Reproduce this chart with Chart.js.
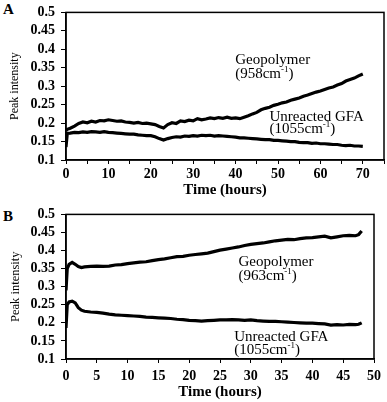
<!DOCTYPE html>
<html>
<head>
<meta charset="utf-8">
<script src="https://cdn.jsdelivr.net/npm/chart.js@4.4.1/dist/chart.umd.min.js"></script>
<style>
  html, body { margin: 0; padding: 0; background: #fff; width: 387px; height: 402px; overflow: hidden; }
  .wrap { position: absolute; left: 0; }
  .letter { position: absolute; font-family: 'Liberation Serif', serif; font-weight: bold; font-size: 15px; color: #000; line-height: 1; }
</style>
</head>
<body>
<div class="letter" style="left:3px; top:2px;">A</div>
<div class="letter" style="left:3px; top:209px;">B</div>
<div class="wrap" style="top:-2px; width:387px; height:202px;"><canvas id="chartA" width="387" height="202"></canvas></div>
<div class="wrap" style="top:200px; width:387px; height:202px;"><canvas id="chartB" width="387" height="202"></canvas></div>
<script>
// ---------- Panel A data ----------
const timeA = [0, 0.3, 1, 2, 3, 4, 5, 6, 7, 8, 9, 10, 11, 12, 13, 14, 15, 16, 17, 18, 19, 20,
  21, 22, 23, 24, 25, 26, 27, 28, 29, 30, 31, 32, 33, 34, 35, 36, 37, 38, 39, 40,
  41, 42, 43, 44, 45, 46, 47, 48, 49, 50, 51, 52, 53, 54, 55, 56, 57, 58, 59, 60,
  61, 62, 63, 64, 65, 66, 67, 68, 69, 70];
const geopolymerA = [0.180, 0.183, 0.186, 0.192, 0.199, 0.203, 0.201, 0.205, 0.203, 0.207, 0.206, 0.209,
  0.207, 0.205, 0.206, 0.203, 0.202, 0.200, 0.202, 0.199, 0.200, 0.198,
  0.196, 0.191, 0.187, 0.196, 0.201, 0.199, 0.206, 0.204, 0.208, 0.206,
  0.212, 0.209, 0.211, 0.214, 0.212, 0.215, 0.213, 0.216, 0.213, 0.214,
  0.212, 0.216, 0.220, 0.225, 0.229, 0.236, 0.240, 0.243, 0.248, 0.251,
  0.255, 0.257, 0.262, 0.265, 0.268, 0.273, 0.276, 0.280, 0.284, 0.287,
  0.291, 0.295, 0.298, 0.303, 0.307, 0.314, 0.318, 0.322, 0.328, 0.333];
const unreactedA = [0.135, 0.172, 0.173, 0.175, 0.174, 0.176, 0.175, 0.177, 0.176, 0.175, 0.177, 0.175,
  0.174, 0.173, 0.172, 0.171, 0.170, 0.170, 0.168, 0.167, 0.166, 0.166,
  0.163, 0.158, 0.154, 0.158, 0.161, 0.163, 0.162, 0.165, 0.164, 0.166,
  0.165, 0.167, 0.166, 0.167, 0.165, 0.166, 0.165, 0.164, 0.163, 0.162,
  0.160, 0.160, 0.159, 0.158, 0.157, 0.156, 0.155, 0.155, 0.153, 0.153,
  0.152, 0.151, 0.150, 0.150, 0.148, 0.147, 0.147, 0.145, 0.146, 0.144,
  0.144, 0.143, 0.142, 0.142, 0.140, 0.139, 0.140, 0.138, 0.138, 0.137];
const xTicksA = [0, 5, 10, 15, 20, 25, 30, 35, 40, 45, 50, 55, 60, 65, 70, 75];
const xLabelsA = ['0', '', '10', '', '20', '', '30', '', '40', '', '50', '', '60', '', '70', ''];

// ---------- Panel B data ----------
const timeB = [0, 0.2, 0.5, 1, 1.5, 2, 2.5, 3, 4, 5, 6, 7, 8, 9, 10, 11, 12, 13, 14, 15, 16, 17,
  18, 19, 20, 21, 22, 23, 24, 25, 26, 27, 28, 29, 30, 31, 32, 33, 34, 35, 36, 37,
  38, 39, 40, 41, 42, 43, 44, 45, 46, 47, 47.5, 48];
const geopolymerB = [0.290, 0.350, 0.362, 0.367, 0.362, 0.356, 0.353, 0.355,
  0.356, 0.357, 0.356, 0.357, 0.360, 0.361, 0.364, 0.366, 0.368, 0.369, 0.372, 0.375,
  0.377, 0.380, 0.383, 0.384, 0.387, 0.389, 0.391, 0.393, 0.397, 0.401, 0.404, 0.407,
  0.410, 0.414, 0.417, 0.419, 0.421, 0.424, 0.427, 0.429, 0.431, 0.430, 0.433, 0.435,
  0.436, 0.438, 0.440, 0.435, 0.438, 0.441, 0.442, 0.441, 0.444, 0.454];
const unreactedB = [0.186, 0.250, 0.258, 0.260, 0.255, 0.242, 0.235, 0.232,
  0.230, 0.229, 0.227, 0.224, 0.222, 0.221, 0.220, 0.219, 0.218, 0.216, 0.215, 0.214,
  0.213, 0.212, 0.210, 0.209, 0.207, 0.206, 0.205, 0.206, 0.207, 0.208, 0.208, 0.209,
  0.208, 0.207, 0.208, 0.206, 0.205, 0.204, 0.204, 0.203, 0.202, 0.201, 0.200, 0.199,
  0.199, 0.198, 0.197, 0.194, 0.195, 0.194, 0.196, 0.195, 0.196, 0.200];
const xTicksB = [0, 5, 10, 15, 20, 25, 30, 35, 40, 45, 50];
const xLabelsB = ['0', '5', '10', '15', '20', '25', '30', '35', '40', '45', '50'];

// ---------- shared y ticks ----------
const yTicks = [0.1, 0.15, 0.2, 0.25, 0.3, 0.35, 0.4, 0.45, 0.5];
const yLabels = ['0.1', '0.15', '0.2', '0.25', '0.3', '0.35', '0.4', '0.45', '0.5'];

// annotation texts (anchored in data units)
const notesA = [
  { t: 39.9, v: 0.360, text: 'Geopolymer' },
  { t: 39.9, v: 0.323, text: '(958cm', sup: '-1', tail: ')' },
  { t: 48.0, v: 0.2065, text: 'Unreacted GFA' },
  { t: 48.0, v: 0.172, text: '(1055cm', sup: '-1', tail: ')' }
];
const notesB = [
  { t: 28.0, v: 0.357, text: 'Geopolymer' },
  { t: 28.0, v: 0.319, text: '(963cm', sup: '-1', tail: ')' },
  { t: 27.3, v: 0.151, text: 'Unreacted GFA' },
  { t: 27.3, v: 0.114, text: '(1055cm', sup: '-1', tail: ')' }
];

const SERIF = "'Liberation Serif', 'Times New Roman', serif";

const framePlugin = {
  id: 'frame',
  afterDatasetsDraw(chart) {
    const { ctx, chartArea: a } = chart;
    ctx.save();
    ctx.strokeStyle = '#000';
    ctx.lineWidth = 1.5;
    ctx.strokeRect(a.left, a.top, a.right - a.left, a.bottom - a.top);
    ctx.restore();
  }
};

const notesPlugin = {
  id: 'notes',
  afterDraw(chart, args, opts) {
    const ctx = chart.ctx;
    const xs = chart.scales.x, ys = chart.scales.y;
    ctx.save();
    ctx.fillStyle = '#000';
    ctx.textBaseline = 'alphabetic';
    ctx.textAlign = 'left';
    (opts.items || []).forEach(n => {
      let x = xs.getPixelForValue(n.t);
      const y = ys.getPixelForValue(n.v);
      ctx.font = '15px ' + SERIF;
      ctx.fillText(n.text, x, y);
      x += ctx.measureText(n.text).width;
      if (n.sup) {
        ctx.font = '9px ' + SERIF;
        ctx.fillText(n.sup, x, y - 6);
        x += ctx.measureText(n.sup).width;
        ctx.font = '15px ' + SERIF;
        ctx.fillText(n.tail, x, y);
      }
    });
    ctx.restore();
  }
};

function makeChart(id, time, geo, gfa, xTicks, xLabels, xMax, pad, xAxisH, notes, yTitleSize, xTickPad) {
  const toXY = arr => arr.map((v, i) => ({ x: time[i], y: v }));
  return new Chart(document.getElementById(id), {
    type: 'line',
    data: {
      datasets: [
        { label: 'Geopolymer', data: toXY(geo), borderColor: '#000', borderWidth: 3.2, pointRadius: 0, tension: 0, fill: false },
        { label: 'Unreacted GFA', data: toXY(gfa), borderColor: '#000', borderWidth: 3.2, pointRadius: 0, tension: 0, fill: false }
      ]
    },
    options: {
      responsive: false,
      animation: false,
      events: [],
      layout: { padding: pad },
      plugins: { legend: { display: false }, tooltip: { enabled: false }, notes: { items: notes } },
      scales: {
        x: {
          type: 'linear', min: 0, max: xMax,
          afterBuildTicks: s => { s.ticks = xTicks.map(v => ({ value: v })); },
          afterFit: s => { s.height = xAxisH; },
          ticks: {
            autoSkip: false, maxRotation: 0, padding: xTickPad, color: '#000',
            font: { family: SERIF, size: 14, weight: 'bold' },
            callback: (v, i) => xLabels[i]
          },
          grid: { drawOnChartArea: false, drawTicks: true, tickLength: 4, color: '#000', tickWidth: 1 },
          border: { color: '#000', width: 1.5 },
          title: { display: true, text: 'Time (hours)', color: '#000', font: { family: SERIF, size: 15, weight: 'bold' }, padding: { top: 0, bottom: 1 } }
        },
        y: {
          type: 'linear', min: 0.1, max: 0.5,
          afterBuildTicks: s => { s.ticks = yTicks.map(v => ({ value: v })); },
          afterFit: s => { s.width = 66; },
          ticks: {
            autoSkip: false, padding: 6, color: '#000',
            font: { family: SERIF, size: 14, weight: 'bold' },
            callback: (v, i) => yLabels[i]
          },
          grid: { drawOnChartArea: false, drawTicks: true, tickLength: 5, color: '#000', tickWidth: 1 },
          border: { color: '#000', width: 1.5 },
          title: { display: true, text: 'Peak intensity', color: '#000', font: { family: SERIF, size: yTitleSize }, padding: { top: 8, bottom: 0 } }
        }
      }
    },
    plugins: [framePlugin, notesPlugin]
  });
}

makeChart('chartA', timeA, geopolymerA, unreactedA, xTicksA, xLabelsA, 75,
  { top: 8, right: 3, left: 0, bottom: 0 }, 40, notesA, 12, 2);
makeChart('chartB', timeB, geopolymerB, unreactedB, xTicksB, xLabelsB, 50,
  { top: 14, right: 13, left: 0, bottom: 0 }, 43, notesB, 12.5, 5);
</script>
</body>
</html>
